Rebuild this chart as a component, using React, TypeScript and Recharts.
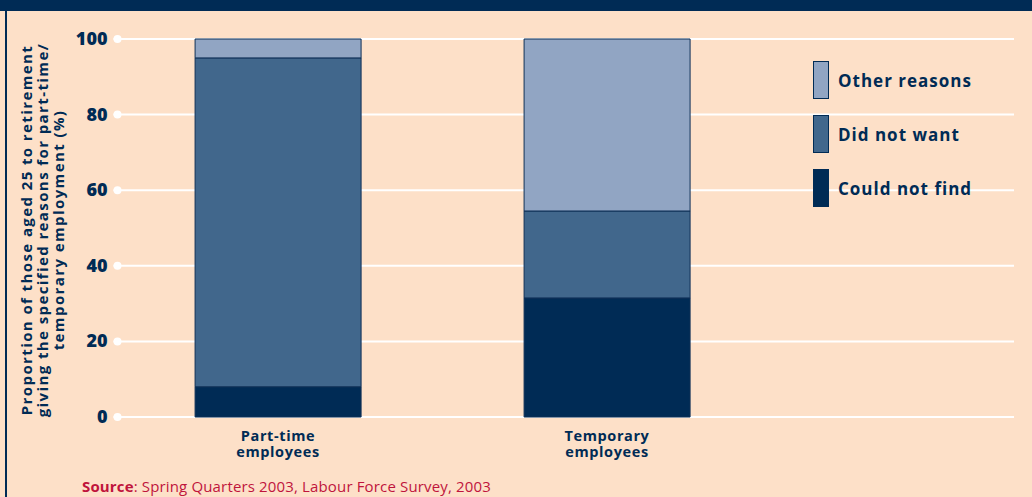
import { BarChart, Bar, XAxis, YAxis, CartesianGrid, Label } from "recharts";

const categories = ["Part-time employees", "Temporary employees"];
const couldNotFind = [8, 31.5];
const didNotWant = [87, 23];
const otherReasons = [5, 45.5];
const yTicks = [0, 20, 40, 60, 80, 100];

const NAVY = "#002B55";
const MID = "#41678C";
const LIGHT = "#91A5C3";
const BG = "#FDE0C8";
const FONT = "'Open Sans', 'DejaVu Sans', sans-serif";

const data = categories.map((name, i) => ({
  name,
  couldNotFind: couldNotFind[i],
  didNotWant: didNotWant[i],
  otherReasons: otherReasons[i],
}));

const legendItems = [
  { label: "Other reasons", color: LIGHT },
  { label: "Did not want", color: MID },
  { label: "Could not find", color: NAVY },
];

const YTick = ({ x, y, payload }: any) => (
  <g>
    <circle cx={x + 4} cy={y} r={4} fill="#fff" />
    <text x={x - 6} y={y + 6} textAnchor="end" fill={NAVY} fontFamily={FONT} fontWeight={800} fontSize={18}>
      {payload.value}
    </text>
  </g>
);

const XTick = ({ x, y, payload }: any) => {
  const words = String(payload.value).split(" ");
  return (
    <text x={x} textAnchor="middle" fill={NAVY} fontFamily={FONT} fontWeight={700} fontSize={14.5} letterSpacing={0.6}>
      <tspan x={x} y={y + 16}>{words[0]}</tspan>
      <tspan x={x} y={y + 32}>{words[1]}</tspan>
    </text>
  );
};

const YLabel = ({ viewBox }: any) => {
  const cy = viewBox.y + viewBox.height / 2 + 2;
  const lines = [
    "Proportion of those aged 25 to retirement",
    "giving the specified reasons for part-time/",
    "temporary employment (%)",
  ];
  return (
    <g>
      {lines.map((l, i) => {
        const lx = 32 + i * 16;
        return (
          <text
            key={i}
            x={lx}
            y={cy}
            transform={`rotate(-90 ${lx} ${cy})`}
            textAnchor="middle"
            fill={NAVY}
            fontFamily={FONT}
            fontWeight={700}
            fontSize={15}
            letterSpacing={1.4}
          >
            {l}
          </text>
        );
      })}
    </g>
  );
};

export default function App() {
  return (
    <div style={{ position: "absolute", left: 0, top: 0, width: 1032, height: 497, background: BG, overflow: "hidden" }}>
      <div style={{ position: "absolute", left: 0, top: 0, width: 1032, height: 11, background: NAVY }} />
      <div style={{ position: "absolute", left: 5, top: 11, width: 2, height: 486, background: NAVY }} />
      <div style={{ position: "absolute", left: 0, top: 0 }}>
        <BarChart
          width={1032}
          height={497}
          data={data}
          margin={{ top: 39, right: 18, bottom: 50, left: 53.5 }}
          barCategoryGap="24.8%"
        >
          <CartesianGrid vertical={false} stroke="#fff" strokeWidth={2} />
          <XAxis
            dataKey="name"
            axisLine={false}
            tickLine={false}
            tick={<XTick />}
            padding={{ left: 0, right: 242.5 }}
            interval={0}
          />
          <YAxis
            domain={[0, 100]}
            ticks={yTicks}
            width={60}
            axisLine={false}
            tickLine={false}
            tickSize={0}
            tickMargin={0}
            tick={<YTick />}
          >
            <Label content={<YLabel />} />
          </YAxis>
          <Bar dataKey="couldNotFind" stackId="a" fill={NAVY} stroke="#0F3057" strokeWidth={1} isAnimationActive={false} />
          <Bar dataKey="didNotWant" stackId="a" fill={MID} stroke="#0F3057" strokeWidth={1} isAnimationActive={false} />
          <Bar dataKey="otherReasons" stackId="a" fill={LIGHT} stroke="#0F3057" strokeWidth={1} isAnimationActive={false} />
        </BarChart>
      </div>
      <div style={{ position: "absolute", left: 813, top: 61 }}>
        {legendItems.map((it) => (
          <div key={it.label} style={{ display: "flex", alignItems: "center", height: 38, marginBottom: 16 }}>
            <div style={{ width: 14, height: 36, background: it.color, border: `1px solid ${NAVY}` }} />
            <span style={{ marginLeft: 9, color: NAVY, fontFamily: FONT, fontWeight: 700, fontSize: 17, letterSpacing: 1 }}>
              {it.label}
            </span>
          </div>
        ))}
      </div>
      <div style={{ position: "absolute", left: 82, top: 476, fontFamily: FONT, fontSize: 15, letterSpacing: 0.15, color: "#C0143C" }}>
        <b>Source</b>: Spring Quarters 2003, Labour Force Survey, 2003
      </div>
    </div>
  );
}
